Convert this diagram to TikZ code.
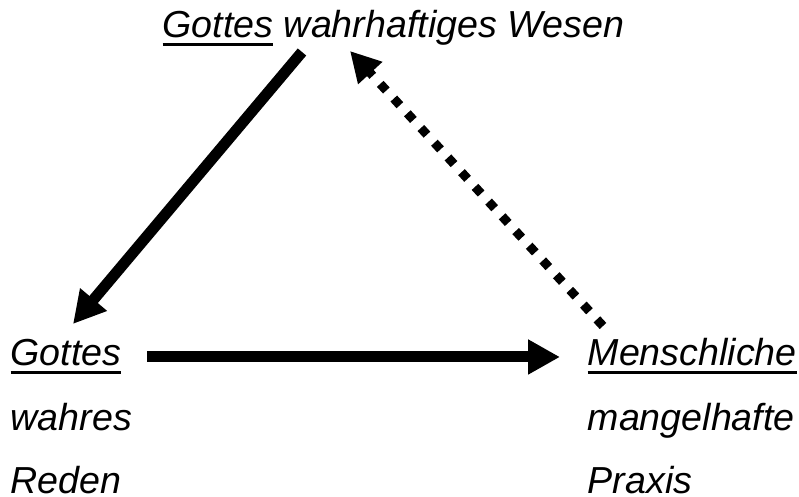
\documentclass[tikz,border=0pt]{standalone}
\usepackage{fontspec}
\setmainfont{Liberation Sans}
\usetikzlibrary{arrows.meta}
\newcommand{\gline}[1]{{\setbox0\hbox{#1}\rlap{\rule[-2.3pt]{\wd0}{1pt}}\box0}}

\begin{document}
\begin{tikzpicture}[
        word/.style={anchor=base west, inner sep=0,
            font=\fontsize{10.7}{12}\selectfont\itshape},
        bold arrow/.style={line width=1.1mm,
            -{Triangle[length=3.2mm, width=3.3mm]}},
        dot arrow/.style={line width=.9mm, dash pattern=on .9mm off 1.1mm,
            -{Triangle[length=3mm, width=3.1mm]}}
    ]
        \useasboundingbox (0, 0) rectangle (7.99, 4.97);
        \node [word] (wesen) at (1.62, 4.59) {\gline{Gottes} wahrhaftiges Wesen};
        \node [word] (reden1) at (.10, 1.31) {\gline{Gottes}};
        \node [word] (reden2) at (.10, .66) {wahres};
        \node [word] (reden3) at (.10, .03) {Reden};
        \node [word] (praxis1) at (5.87, 1.31) {\gline{Menschliche}};
        \node [word] (praxis2) at (5.87, .66) {mangelhafte};
        \node [word] (praxis3) at (5.87, .03) {Praxis};
        \draw [bold arrow]
            ([shift={(1.40, -.14)}]wesen.base west) -- ([shift={(.63, .42)}]reden1.base west);
        \draw [bold arrow]
            ([shift={(1.37, .09)}]reden1.base west) -- ([shift={(-.27, .09)}]praxis1.base west);
        \draw [dot arrow]
            ([shift={(.16, .40)}]praxis1.base west) -- ([shift={(1.88, -.13)}]wesen.base west);
    \end{tikzpicture}
\end{document}
